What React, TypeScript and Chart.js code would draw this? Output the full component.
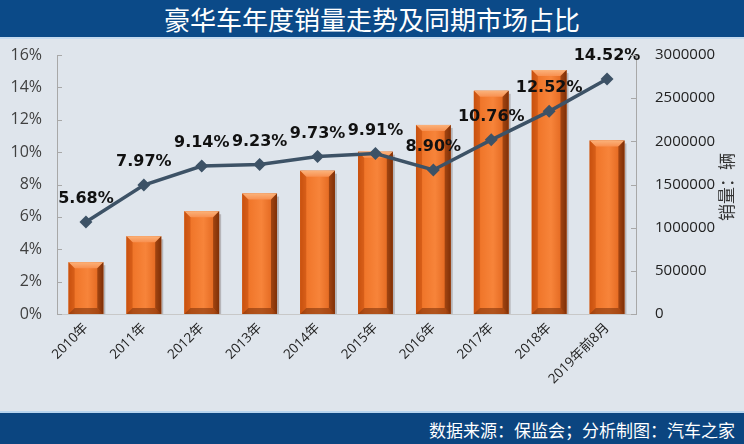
import React, { useEffect, useRef } from "react";
import { Chart, registerables } from "chart.js";

Chart.register(...registerables);

const categories = ["2010年", "2011年", "2012年", "2013年", "2014年", "2015年", "2016年", "2017年", "2018年", "2019年前8月"];
const salesVolume = [600000, 900000, 1190000, 1395000, 1660000, 1880000, 2190000, 2585000, 2825000, 2010000];
const marketShare = [5.68, 7.97, 9.14, 9.23, 9.73, 9.91, 8.9, 10.76, 12.52, 14.52];
const shareLabels = ["5.68%", "7.97%", "9.14%", "9.23%", "9.73%", "9.91%", "8.90%", "10.76%", "12.52%", "14.52%"];
const titleText = "豪华车年度销量走势及同期市场占比";
const sourceText = "数据来源：保监会；分析制图：汽车之家";
const rightAxisTitle = "销量：辆";

const CANVAS_TOP = 27;

const bevelPlugin = {
  id: "bevel",
  afterDatasetDraw(chart: any, args: any) {
    if (args.index !== 0) return;
    const ctx = chart.ctx;
    const meta = chart.getDatasetMeta(0);
    meta.data.forEach((bar: any) => {
      const w = bar.width;
      const x0 = bar.x - w / 2;
      const x1 = bar.x + w / 2;
      const y0 = bar.y;
      const y1 = bar.base;
      const h = y1 - y0;
      const b = 6;
      ctx.save();
      ctx.fillStyle = "rgba(60,40,30,0.25)";
      ctx.fillRect(x1, y0 + 3, 2, h - 3);
      const g = ctx.createLinearGradient(x0, 0, x1, 0);
      g.addColorStop(0, "#c9520f");
      g.addColorStop(0.2, "#f0762a");
      g.addColorStop(0.55, "#f7843a");
      g.addColorStop(0.85, "#e46a22");
      g.addColorStop(1, "#9a3c0a");
      ctx.fillStyle = g;
      ctx.fillRect(x0, y0, w, h);
      ctx.beginPath();
      ctx.moveTo(x0, y0);
      ctx.lineTo(x1, y0);
      ctx.lineTo(x1 - b, y0 + b);
      ctx.lineTo(x0 + b, y0 + b);
      ctx.closePath();
      const gt = ctx.createLinearGradient(0, y0, 0, y0 + b);
      gt.addColorStop(0, "#fbb27a");
      gt.addColorStop(1, "#f89050");
      ctx.fillStyle = gt;
      ctx.fill();
      ctx.beginPath();
      ctx.moveTo(x0, y0);
      ctx.lineTo(x0 + b, y0 + b);
      ctx.lineTo(x0 + b, y1 - b);
      ctx.lineTo(x0, y1);
      ctx.closePath();
      ctx.fillStyle = "rgba(200,80,15,0.55)";
      ctx.fill();
      ctx.beginPath();
      ctx.moveTo(x1, y0);
      ctx.lineTo(x1 - b, y0 + b);
      ctx.lineTo(x1 - b, y1 - b);
      ctx.lineTo(x1, y1);
      ctx.closePath();
      ctx.fillStyle = "rgba(110,40,5,0.6)";
      ctx.fill();
      ctx.beginPath();
      ctx.moveTo(x0, y1);
      ctx.lineTo(x0 + b, y1 - b);
      ctx.lineTo(x1 - b, y1 - b);
      ctx.lineTo(x1, y1);
      ctx.closePath();
      ctx.fillStyle = "rgba(120,45,8,0.55)";
      ctx.fill();
      ctx.restore();
    });
  },
};

const innerTicksPlugin = {
  id: "innerTicks",
  afterDraw(chart: any) {
    const ctx = chart.ctx;
    ctx.save();
    ctx.strokeStyle = "#a8a8a8";
    ctx.lineWidth = 1;
    const y = chart.scales.y;
    y.ticks.forEach((_t: any, i: number) => {
      const py = Math.round(y.getPixelForTick(i)) + 0.5;
      ctx.beginPath();
      ctx.moveTo(y.right, py);
      ctx.lineTo(y.right + 5, py);
      ctx.stroke();
    });
    const y1 = chart.scales.y1;
    y1.ticks.forEach((_t: any, i: number) => {
      const py = Math.round(y1.getPixelForTick(i)) + 0.5;
      ctx.beginPath();
      ctx.moveTo(y1.left - 5, py);
      ctx.lineTo(y1.left, py);
      ctx.stroke();
    });
    ctx.translate(727, 187 - CANVAS_TOP);
    ctx.rotate(-Math.PI / 2);
    ctx.font = "17px 'Noto Sans CJK SC', sans-serif";
    ctx.fillStyle = "#333333";
    ctx.textAlign = "center";
    ctx.textBaseline = "middle";
    ctx.fillText(rightAxisTitle, 0, 0);
    ctx.restore();
  },
};

const pointLabelPlugin = {
  id: "pointLabels",
  afterDatasetsDraw(chart: any) {
    const ctx = chart.ctx;
    const meta = chart.getDatasetMeta(1);
    ctx.save();
    ctx.font = "bold 16px 'DejaVu Sans', sans-serif";
    ctx.fillStyle = "#111111";
    ctx.textAlign = "center";
    ctx.textBaseline = "middle";
    meta.data.forEach((pt: any, i: number) => {
      ctx.fillText(shareLabels[i], pt.x, pt.y - 23);
    });
    ctx.restore();
  },
};

export default function App() {
  const canvasRef = useRef<HTMLCanvasElement | null>(null);

  useEffect(() => {
    document.body.style.margin = "0";
    const canvas = canvasRef.current;
    if (!canvas) return;
    const chart = new Chart(canvas, {
      type: "bar",
      data: {
        labels: categories,
        datasets: [
          {
            type: "bar",
            data: salesVolume,
            yAxisID: "y1",
            backgroundColor: "#f07a2a",
            barPercentage: 0.6,
            categoryPercentage: 1,
            order: 1,
          },
          {
            type: "line",
            data: marketShare,
            yAxisID: "y",
            borderColor: "#3d5266",
            borderWidth: 3.5,
            pointStyle: "rectRot",
            pointRadius: 4,
            pointBackgroundColor: "#3d5266",
            pointBorderColor: "#3d5266",
            tension: 0,
            order: 0,
          },
        ] as any,
      },
      options: {
        animation: false,
        responsive: false,
        maintainAspectRatio: false,
        layout: { padding: { top: 0, left: 0, right: 0, bottom: 0 } },
        plugins: {
          legend: { display: false },
          tooltip: { enabled: false },
        },
        scales: {
          x: {
            grid: { display: false, drawTicks: false },
            border: { display: true, color: "#c8c8c8" },
            ticks: {
              color: "#222222",
              font: { family: "'Open Sans', 'Noto Sans CJK SC', sans-serif", size: 13.5 },
              maxRotation: 45,
              minRotation: 45,
              padding: 6,
              autoSkip: false,
            },
            afterFit(scale: any) {
              scale.height = 98;
            },
          },
          y: {
            position: "left",
            min: 0,
            max: 16,
            grid: { display: false, drawTicks: false },
            border: { display: true, color: "#a8a8a8" },
            ticks: {
              stepSize: 2,
              padding: 15,
              color: "#404040",
              font: { family: "'Open Sans', sans-serif", size: 16 },
              callback: (v: any) => v + "%",
            },
            afterFit(scale: any) {
              scale.width = 57;
            },
          },
          y1: {
            position: "right",
            min: 0,
            max: 3000000,
            grid: { display: false, drawTicks: false },
            border: { display: true, color: "#a8a8a8" },
            ticks: {
              stepSize: 500000,
              padding: 19,
              color: "#222222",
              font: { family: "'Open Sans', sans-serif", size: 15 },
              callback: (v: any) => String(v),
            },
            afterFit(scale: any) {
              scale.width = 108;
            },
          },
        },
      } as any,
      plugins: [bevelPlugin, innerTicksPlugin, pointLabelPlugin],
    });
    return () => chart.destroy();
  }, []);

  return (
    <div
      style={{
        position: "relative",
        width: 744,
        height: 444,
        background: "#dfe5ec",
        overflow: "hidden",
      }}
    >
      <div
        style={{
          position: "absolute",
          left: 0,
          top: 0,
          width: 744,
          height: 37,
          background: "#0b4a88",
          borderBottom: "2px solid #c6dbef",
          color: "#ffffff",
          fontFamily: "'Noto Sans CJK SC', sans-serif",
          fontSize: 26,
          lineHeight: "37px",
          textAlign: "center",
        }}
      >
        {titleText}
      </div>
      <canvas
        ref={canvasRef}
        width={744}
        height={412 - CANVAS_TOP}
        style={{ position: "absolute", left: 0, top: CANVAS_TOP, width: 744, height: 412 - CANVAS_TOP }}
      />
      <div
        style={{
          position: "absolute",
          left: 0,
          top: 411,
          width: 744,
          height: 33,
          background: "#0b4580",
          borderTop: "2px solid #b8d4ee",
          color: "#ffffff",
          fontFamily: "'Noto Sans CJK SC', sans-serif",
          fontSize: 17,
          lineHeight: "33px",
          textAlign: "right",
          paddingRight: 9,
          boxSizing: "border-box",
        }}
      >
        {sourceText}
      </div>
    </div>
  );
}
